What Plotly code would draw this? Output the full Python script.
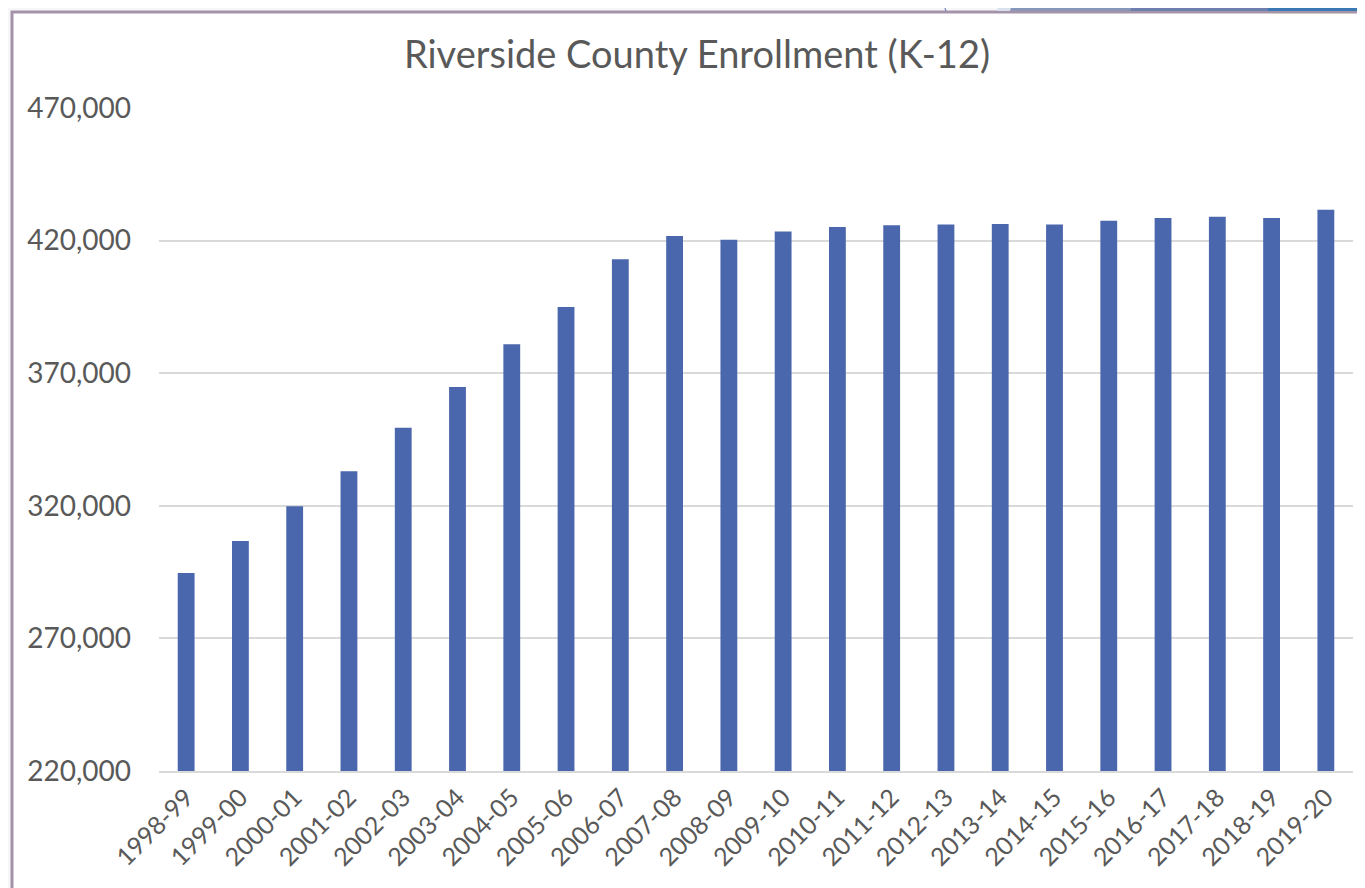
import plotly.graph_objects as go

years = ["1998-99", "1999-00", "2000-01", "2001-02", "2002-03", "2003-04",
         "2004-05", "2005-06", "2006-07", "2007-08", "2008-09", "2009-10",
         "2010-11", "2011-12", "2012-13", "2013-14", "2014-15", "2015-16",
         "2016-17", "2017-18", "2018-19", "2019-20"]
enrollment = [294700, 306700, 319800, 333000, 349400, 364800,
              380900, 395000, 413000, 421700, 420300, 423400,
              425100, 425800, 426100, 426300, 426100, 427500,
              428500, 429000, 428500, 431600]
y_ticks = [220000, 270000, 320000, 370000, 420000, 470000]

# page shows the figure offset by the 8px body margin
OFF = 8
W, H = 1365 - OFF, 888 - OFF
L, R, T, B = 159 - OFF, 12, 108 - OFF, 117
PW, PH = W - L - R, H - T - B


def px(x):
    return (x - OFF - L) / PW


def py(y):
    return (H - B - (y - OFF)) / PH


FONT = "Lato"
GREY = "#595959"

fig = go.Figure(go.Bar(x=years, y=enrollment, marker_color="#4a66ac",
                       marker_line_width=0, width=0.31))

shapes = [
    # slide frame
    dict(type="rect", xref="paper", yref="paper", x0=px(12), x1=px(1390),
         y0=py(12), y1=py(910), fillcolor="white",
         line=dict(color="#a394aa", width=3), layer="below"),
    # decorative strips at top right
    dict(type="path", xref="paper", yref="paper",
         path=f"M {px(993)} {py(-10)} L {px(1016)} {py(-10)} L {px(1010)} {py(11)} L {px(998)} {py(11)} Z",
         fillcolor="#d9e0ee", line=dict(width=0), layer="below"),
    dict(type="path", xref="paper", yref="paper",
         path=f"M {px(1016)} {py(-10)} L {px(1133)} {py(-10)} L {px(1130)} {py(11)} L {px(1010)} {py(11)} Z",
         fillcolor="#8896b8", line=dict(width=0), layer="below"),
    dict(type="path", xref="paper", yref="paper",
         path=f"M {px(1133)} {py(-10)} L {px(1268)} {py(-10)} L {px(1268)} {py(11)} L {px(1130)} {py(11)} Z",
         fillcolor="#6c7fae", line=dict(width=0), layer="below"),
    dict(type="path", xref="paper", yref="paper",
         path=f"M {px(1268)} {py(-10)} L {px(1380)} {py(-10)} L {px(1380)} {py(11)} L {px(1268)} {py(11)} Z",
         fillcolor="#3a78b6", line=dict(width=0), layer="below"),
    dict(type="line", xref="paper", yref="paper", x0=px(938), y0=py(-10),
         x1=px(946), y1=py(11), line=dict(color="#5a6fb0", width=1), layer="below"),
]

fig.update_layout(
    width=W, height=H,
    margin=dict(l=L, r=R, t=T, b=B, autoexpand=False),
    paper_bgcolor="#f7f7f9",
    plot_bgcolor="rgba(0,0,0,0)",
    showlegend=False,
    shapes=shapes,
    title=dict(text="Riverside County Enrollment (K-12)", x=(697 - OFF) / W, xref="container",
               xanchor="center", y=(H - (55 - OFF)) / H, yref="container", yanchor="middle",
               font=dict(family=FONT, size=38, color=GREY)),
    font=dict(family=FONT, color=GREY),
    bargap=0.69,
)
fig.update_yaxes(range=[220000, 470000], tickvals=y_ticks, tickformat=",",
                 showgrid=True, gridcolor="#d9d9d9", gridwidth=1.5,
                 zeroline=False, showline=False, ticks="",
                 ticklabelstandoff=27,
                 tickfont=dict(family=FONT, size=28, color=GREY))
fig.update_xaxes(type="category", tickangle=-45, showline=True, linecolor="#d9d9d9",
                 linewidth=2, ticks="", showgrid=False,
                 tickfont=dict(family=FONT, size=25, color=GREY))

fig.write_html("out.html")
